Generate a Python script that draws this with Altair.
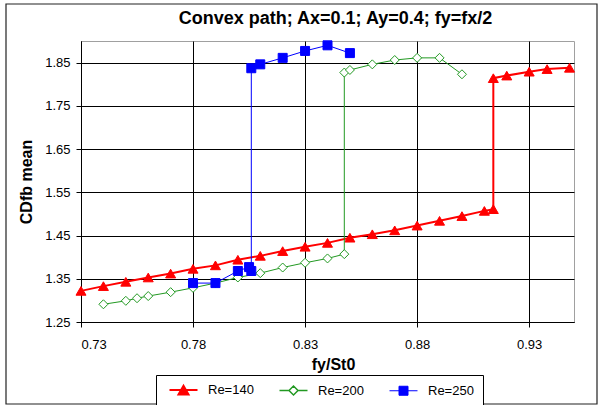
import altair as alt
import pandas as pd

# ---- data ----
series_names = ["Re=140", "Re=200", "Re=250"]

re140_x = [0.73, 0.74, 0.75, 0.76, 0.77, 0.78, 0.79, 0.80, 0.81, 0.82, 0.83, 0.84, 0.85,
           0.86, 0.87, 0.88, 0.89, 0.90, 0.91, 0.914, 0.914, 0.92, 0.93, 0.938, 0.948]
re140_y = [1.322, 1.333, 1.343, 1.353, 1.362, 1.373, 1.381, 1.394, 1.403, 1.414, 1.424, 1.433, 1.445,
           1.453, 1.462, 1.473, 1.484, 1.495, 1.507, 1.511, 1.814, 1.820, 1.829, 1.835, 1.838]

re200_x = [0.74, 0.75, 0.755, 0.76, 0.77, 0.78, 0.79, 0.80, 0.81, 0.82, 0.83, 0.84, 0.8475,
           0.8475, 0.85, 0.86, 0.87, 0.88, 0.89, 0.90]
re200_y = [1.291, 1.299, 1.305, 1.310, 1.319, 1.329, 1.340, 1.353, 1.363, 1.376, 1.387, 1.397, 1.407,
           1.827, 1.833, 1.846, 1.856, 1.861, 1.861, 1.823]

re250_x = [0.78, 0.79, 0.80, 0.805, 0.806, 0.806, 0.81, 0.82, 0.83, 0.84, 0.85]
re250_y = [1.340, 1.340, 1.368, 1.377, 1.368, 1.837, 1.846, 1.861, 1.877, 1.890, 1.872]

x_ticks = [0.73, 0.78, 0.83, 0.88, 0.93]
y_ticks = [1.25, 1.35, 1.45, 1.55, 1.65, 1.75, 1.85]

title_text = "Convex path; Ax=0.1; Ay=0.4; fy=fx/2"
x_title = "fy/St0"
y_title = "CDfb mean"

# ---- build table ----
rows = []
for name, xs, ys in [("Re=140", re140_x, re140_y), ("Re=200", re200_x, re200_y), ("Re=250", re250_x, re250_y)]:
    for i, (a, b) in enumerate(zip(xs, ys)):
        rows.append({"s": name, "x": a, "y": b, "idx": i})
df = pd.DataFrame(rows)

FONT = "Liberation Sans"
RED, GREEN, BLUE = "#FF0000", "#229922", "#0000FF"

xenc = alt.X("x:Q", scale=alt.Scale(domain=[0.73, 0.95], nice=False, zero=False),
             axis=alt.Axis(values=x_ticks, format=".2f", title=x_title, grid=True,
                           gridColor="#000000", gridWidth=1, domainColor="#000000",
                           tickColor="#000000", tickSize=5, labelPadding=11,
                           labelFont=FONT, labelFontSize=13, labelColor="#000000",
                           titleFont=FONT, titleFontSize=16, titleFontWeight="bold",
                           titleColor="#000000", titlePadding=5, titleX=252))
yenc = alt.Y("y:Q", scale=alt.Scale(domain=[1.25, 1.90], nice=False, zero=False),
             axis=alt.Axis(values=y_ticks, format=".2f", title=y_title, grid=True,
                           gridColor="#000000", gridWidth=1, domainColor="#000000",
                           tickColor="#000000", tickSize=5, labelPadding=6,
                           labelFont=FONT, labelFontSize=13, labelColor="#000000",
                           titleFont=FONT, titleFontSize=16, titleFontWeight="bold",
                           titleColor="#000000", titlePadding=10))

base = alt.Chart(df)

def series_layers(name, color, width, shape, size, filled):
    sub = base.transform_filter(alt.datum.s == name)
    line = sub.mark_line(color=color, strokeWidth=width).encode(x=xenc, y=yenc, order="idx:Q")
    pt = sub.mark_point(shape=shape, size=size, filled=filled, color=color,
                        fill=color if filled else "#FFFFFF", stroke=color, strokeWidth=1,
                        opacity=1).encode(x=xenc, y=yenc)
    return [line, pt]

layers = []
layers += series_layers("Re=140", RED, 2, "triangle-up", 100, True)
layers += series_layers("Re=200", GREEN, 1, "diamond", 81, False)
layers += series_layers("Re=250", BLUE, 1, "square", 81, True)

# legend symbols: line + marker as custom paths
legend_paths = [
    "M-2.8,0H2.8M0,-0.87L1,0.87L-1,0.87Z",
    "M-2.8,0H-0.9M0.9,0H2.8M-0.9,0L0,-0.9L0.9,0L0,0.9Z",
    "M-2.8,0H2.8M-0.9,-0.9H0.9V0.9H-0.9Z",
]
leg = alt.Legend(title=None, orient="none", legendX=75, legendY=334, direction="horizontal",
                 strokeColor="#000000", fillColor="#FFFFFF", padding=8.5,
                 symbolSize=100, symbolOffset=12.5, labelOffset=18, columnPadding=20,
                 symbolOpacity=1, labelFont=FONT, labelFontSize=13, labelColor="#000000")
legend_layer = base.mark_point(opacity=0).encode(
    x=xenc, y=yenc,
    shape=alt.Shape("s:N", scale=alt.Scale(domain=series_names, range=legend_paths), legend=leg),
    stroke=alt.Stroke("s:N", scale=alt.Scale(domain=series_names, range=[RED, GREEN, BLUE]), legend=leg),
    fill=alt.Fill("s:N", scale=alt.Scale(domain=series_names, range=[RED, "#FFFFFF", BLUE]), legend=leg),
    strokeWidth=alt.StrokeWidth("s:N", scale=alt.Scale(domain=series_names, range=[2, 1, 1]), legend=leg),
)

frame = alt.Chart(pd.DataFrame({"a": [0]})).mark_rect(
    filled=False, stroke="#222222", strokeWidth=1.2
).encode(x=alt.value(-75), x2=alt.value(516), y=alt.value(-37), y2=alt.value(363))

chart = alt.layer(frame, *layers, legend_layer).properties(
    width=493, height=281,
    title=alt.Title(title_text, font=FONT, fontSize=18, fontWeight="bold", color="#000000",
                    anchor="middle", dx=8, offset=-25),
    autosize=alt.AutoSizeParams(type="none"),
    padding={"left": 81, "top": 41, "right": 28, "bottom": 83},
    background="#FFFFFF",
).configure_view(stroke="#A0A0A0", strokeWidth=1)

chart.save("out.html", embed_options={"renderer": "svg", "actions": False})
